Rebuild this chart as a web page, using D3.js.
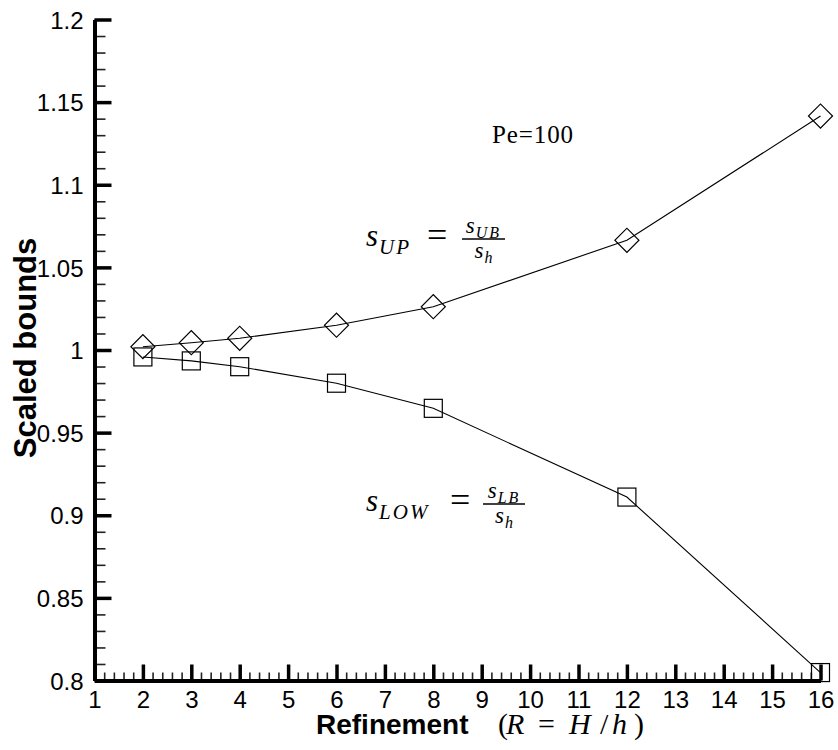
<!DOCTYPE html>
<html>
<head>
<meta charset="utf-8">
<script src="https://cdn.jsdelivr.net/npm/d3@7"></script>
<style>
  body { margin: 0; background: #fff; }
  svg { display: block; }
  .tick text { font-family: "Liberation Sans", Arial, sans-serif; font-size: 24px; fill: #000; }
  .major .domain { stroke-width: 4px; stroke: #000; }
  .major .tick line { stroke-width: 3.5px; stroke: #000; }
  .minor .tick line { stroke-width: 1.6px; stroke: #222; }
</style>
</head>
<body>
<script>
// refinement levels and the two scaled bounds
var refinement = [2, 3, 4, 6, 8, 12, 16];
var upperBound = [1.0020, 1.0044, 1.0071, 1.0150, 1.0262, 1.0664, 1.1416];
var lowerBound = [0.9958, 0.9934, 0.9899, 0.9799, 0.9647, 0.9110, 0.8048];
var xTicks = d3.range(1, 17);
var yTicks = [0.8, 0.85, 0.9, 0.95, 1, 1.05, 1.1, 1.15, 1.2];
var yTickLabels = ["0.8", "0.85", "0.9", "0.95", "1", "1.05", "1.1", "1.15", "1.2"];

var width = 838, height = 750;

var svg = d3.select("body").append("svg")
    .attr("width", width)
    .attr("height", height);

var x = d3.scaleLinear().domain([1, 16]).range([94.5, 820.5]);
var y = d3.scaleLinear().domain([0.8, 1.2]).range([680.5, 19.5]);

// minor ticks first, majors drawn on top
svg.append("g").attr("class", "minor")
    .attr("transform", "translate(" + x(1) + ",0)")
    .call(d3.axisLeft(y).tickValues(d3.range(80, 121).map(function(d) { return d / 100; }))
        .tickSize(-11).tickSizeOuter(0).tickFormat(""))
    .call(function(g) { g.select(".domain").remove(); });

svg.append("g").attr("class", "minor")
    .attr("transform", "translate(0," + y(0.8) + ")")
    .call(d3.axisBottom(x).tickValues(d3.range(5, 81).map(function(d) { return d / 5; }))
        .tickSize(-8).tickSizeOuter(0).tickFormat(""))
    .call(function(g) { g.select(".domain").remove(); });

var yAxis = svg.append("g").attr("class", "major")
    .attr("transform", "translate(" + x(1) + ",0)")
    .call(d3.axisLeft(y).tickValues(yTicks)
        .tickFormat(function(d, i) { return yTickLabels[i]; })
        .tickSize(-17).tickSizeOuter(0).tickPadding(11));
yAxis.selectAll(".tick text").attr("dy", "0.36em");

svg.append("g").attr("class", "major")
    .attr("transform", "translate(0," + y(0.8) + ")")
    .call(d3.axisBottom(x).tickValues(xTicks)
        .tickSize(-16).tickSizeOuter(0).tickPadding(10));

// axis titles
svg.append("text")
    .attr("transform", "translate(36,348) rotate(-90)")
    .attr("text-anchor", "middle")
    .style("font-family", "Liberation Sans, Arial, sans-serif")
    .style("font-weight", "bold")
    .style("font-size", "31px")
    .text("Scaled bounds");

svg.append("text")
    .attr("x", 316).attr("y", 734)
    .style("font-family", "Liberation Sans, Arial, sans-serif")
    .style("font-weight", "bold")
    .style("font-size", "28px")
    .text("Refinement");

var mathParts = [
  { t: "(", x: 498, it: false },
  { t: "R", x: 506, it: true },
  { t: "=", x: 538, it: false },
  { t: "H", x: 569, it: true },
  { t: "/", x: 600, it: false },
  { t: "h", x: 612, it: true },
  { t: ")", x: 634, it: false }
];
var math = svg.append("text")
    .attr("y", 734)
    .style("font-family", "Liberation Serif, serif")
    .style("font-size", "30px");
mathParts.forEach(function(p) {
  math.append("tspan").attr("x", p.x)
      .style("font-style", p.it ? "italic" : "normal")
      .text(p.t);
});

// data lines and markers
var upper = refinement.map(function(r, i) { return { r: r, v: upperBound[i] }; });
var lower = refinement.map(function(r, i) { return { r: r, v: lowerBound[i] }; });

var line = d3.line()
    .x(function(d) { return x(d.r); })
    .y(function(d) { return y(d.v); });

[upper, lower].forEach(function(series) {
  svg.append("path").datum(series)
      .attr("fill", "none")
      .attr("stroke", "#000")
      .attr("stroke-width", 1.1)
      .attr("d", line);
});

var diamond = d3.symbol().type(d3.symbolSquare).size(17 * 17);
svg.selectAll(".diamond").data(upper).enter().append("path")
    .attr("class", "diamond")
    .attr("transform", function(d) { return "translate(" + x(d.r) + "," + y(d.v) + ") rotate(45)"; })
    .attr("d", diamond)
    .attr("fill", "none")
    .attr("stroke", "#000")
    .attr("stroke-width", 1.2);

svg.selectAll(".square").data(lower).enter().append("rect")
    .attr("class", "square")
    .attr("x", function(d) { return x(d.r) - 9; })
    .attr("y", function(d) { return y(d.v) - 9; })
    .attr("width", 18)
    .attr("height", 18)
    .attr("fill", "none")
    .attr("stroke", "#000")
    .attr("stroke-width", 1.2);

// annotations
svg.append("text")
    .attr("x", 492).attr("y", 143)
    .style("font-family", "Liberation Serif, serif")
    .style("font-size", "25px")
    .attr("textLength", 81)
    .text("Pe=100");

function fraction(x0, base, sub, eqX, fracNum, barY, barX0, barX1) {
  var g = svg.append("g").style("font-family", "Liberation Serif, serif");
  var t = g.append("text").attr("x", x0).attr("y", base).style("font-style", "italic").style("font-size", "31px");
  t.append("tspan").text("s");
  t.append("tspan").attr("dy", 8).attr("dx", 1).style("font-size", "21px")
      .style("letter-spacing", "2px").text(sub);
  g.append("text").attr("x", eqX).attr("y", base + 1)
      .style("font-size", "36px").text("=");
  g.append("line")
      .attr("x1", barX0).attr("x2", barX1)
      .attr("y1", barY).attr("y2", barY)
      .attr("stroke", "#000").attr("stroke-width", 1.4);
  var n = g.append("text").attr("x", (barX0 + barX1) / 2).attr("y", barY - 6)
      .attr("text-anchor", "middle").style("font-style", "italic").style("font-size", "23px");
  n.append("tspan").text("s");
  n.append("tspan").attr("dy", 5).attr("dx", 1).style("font-size", "16px")
      .style("letter-spacing", "2px").text(fracNum);
  var dn = g.append("text").attr("x", (barX0 + barX1) / 2).attr("y", barY + 19)
      .attr("text-anchor", "middle").style("font-style", "italic").style("font-size", "23px");
  dn.append("tspan").text("s");
  dn.append("tspan").attr("dy", 5).attr("dx", 1).style("font-size", "16px").text("h");
}

fraction(366, 246, "UP", 427, "UB", 239, 462, 505);
fraction(366, 511, "LOW", 450, "LB", 504, 483, 525);
</script>
</body>
</html>
